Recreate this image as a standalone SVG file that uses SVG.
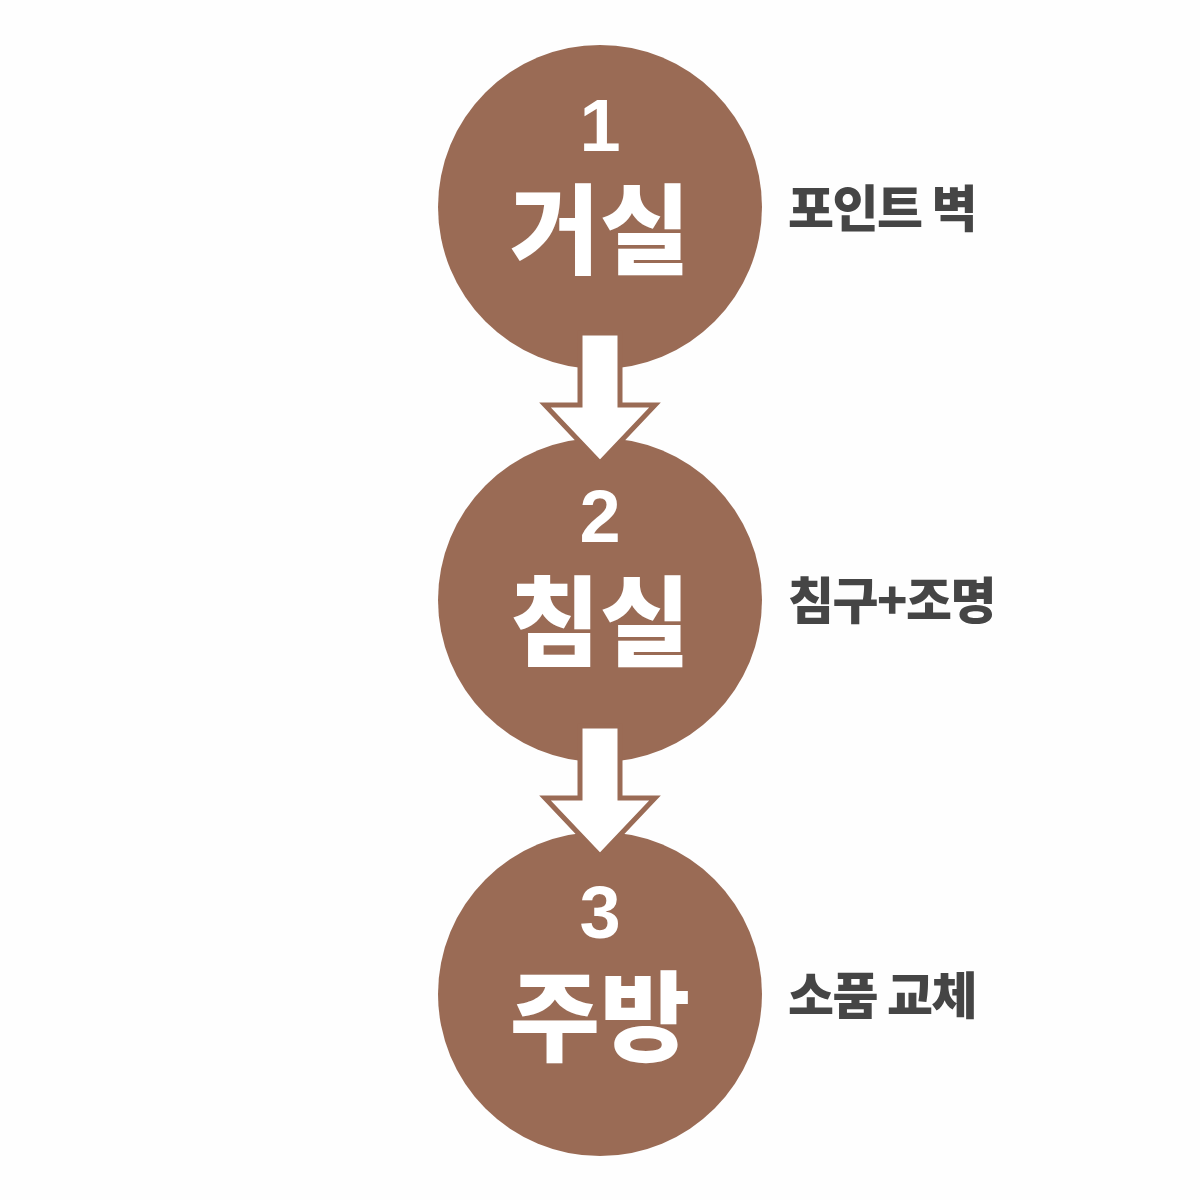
<svg xmlns="http://www.w3.org/2000/svg" width="1200" height="1200" viewBox="0 0 1200 1200">
<style>
.node{fill:#9a6b55;}
.num{font-family:"Liberation Sans","Noto Sans CJK KR",sans-serif;font-weight:700;font-size:74px;fill:#ffffff;text-anchor:middle;}
.title{font-family:"Liberation Sans","Noto Sans CJK KR",sans-serif;font-weight:900;font-size:98px;fill:#ffffff;text-anchor:middle;}
.label{font-family:"Noto Sans CJK KR",sans-serif;font-weight:900;font-size:50px;fill:#454545;letter-spacing:-1.5px;}
.arrow{fill:#ffffff;stroke:#9a6b55;stroke-width:5;stroke-linejoin:miter;}
</style>
<rect width="1200" height="1200" fill="#fefefe"/>
<g id="node1">
<circle class="node" cx="600" cy="207" r="162"/>
<text class="num" x="600" y="151">1</text>
<text class="title" x="600" y="266">거실</text>
<text class="label" x="788" y="227">포인트 벽</text>
</g>
<g id="node2">
<circle class="node" cx="600" cy="600" r="162"/>
<text class="num" x="600" y="542">2</text>
<text class="title" x="600" y="658">침실</text>
<text class="label" x="788" y="619">침구+조명</text>
</g>
<g id="node3">
<circle class="node" cx="600" cy="994" r="162"/>
<text class="num" x="600" y="938">3</text>
<text class="title" x="600" y="1053">주방</text>
<text class="label" x="788" y="1014">소품 교체</text>
</g>
<g id="connectors">
<path class="arrow" d="M580,333 H620 V405 H655 L600,463 L545,405 H580 Z"/>
<path class="arrow" d="M580,726 H620 V798 H655 L600,856 L545,798 H580 Z"/>
</g>
</svg>
